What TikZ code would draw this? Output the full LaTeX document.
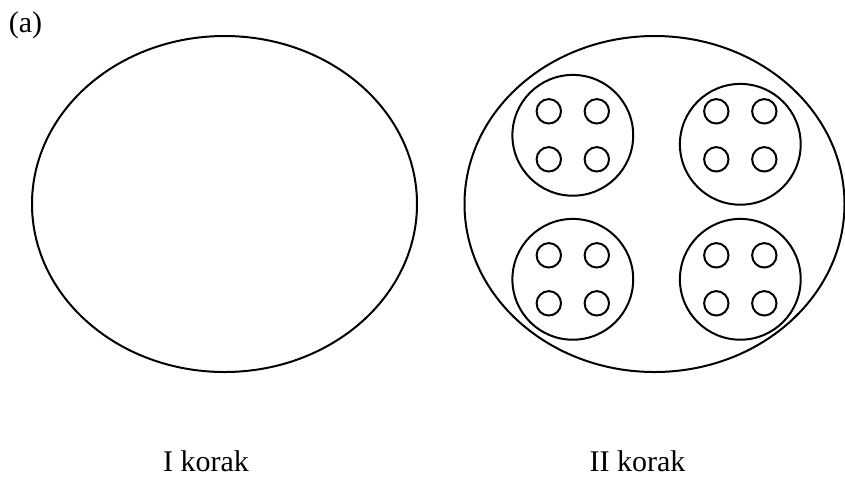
\documentclass[tikz,border=0pt]{standalone}
\usepackage{fontspec}
\setmainfont{Liberation Serif}
\begin{document}
\begin{tikzpicture}[x=0.5pt, y=-0.5pt, line width=1pt,
    lbl/.style={font=\fontsize{15}{18}\selectfont, inner sep=0pt, anchor=base},
    cell/.style={draw}]
    \useasboundingbox (0,0) rectangle (845,479);

    % step one
    \draw[cell] (224.5,204) ellipse [x radius=192.5, y radius=168];
    % step two
    \draw[cell] (654.5,204) ellipse [x radius=190, y radius=168];
    \foreach \cx/\cy/\sy in {572.8/135.3/135.3, 740.3/144.3/135.3,
                             572.8/279.3/279.3, 740.3/279.3/279.3} {
        \draw[cell] (\cx,\cy) circle [radius=60.4];
        \foreach \dx in {-24,24}
            \foreach \dy in {-24,24}
                \draw[cell] (\cx+\dx,\sy+\dy) circle [radius=12.2];
    }

    \node[lbl] (tag)   at (25.5,32)  {(a)};
    \node[lbl] (korI)  at (206,471)  {I korak};
    \node[lbl] (korII) at (637.5,471) {II korak};
\end{tikzpicture}
\end{document}
